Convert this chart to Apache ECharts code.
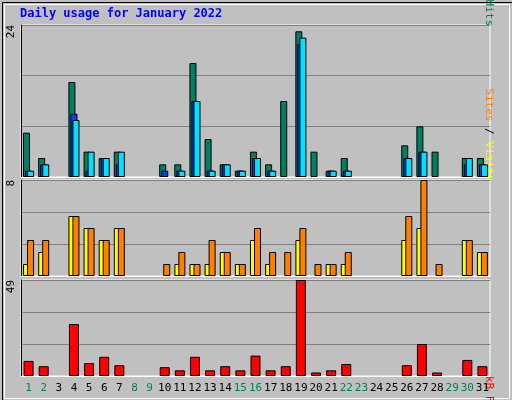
<!DOCTYPE html>
<html><head><meta charset="utf-8">
<script src="https://cdn.jsdelivr.net/npm/echarts@6/dist/echarts.min.js"></script>
<style>html,body{margin:0;padding:0;background:#c0c0c0}#c{width:512px;height:400px}</style>
</head><body><div id="c"></div>
<script>
var days = ['1','2','3','4','5','6','7','8','9','10','11','12','13','14','15','16','17','18','19','20','21','22','23','24','25','26','27','28','29','30','31'];
var weekend = ['1','2','8','9','15','16','22','23','29','30'];
var hits   = [7,3,0,15,4,3,4,0,0,2,2,18,6,2,1,4,2,12,23,4,1,3,0,0,0,5,8,4,0,3,3];
var files  = [1,2,0,10,1,3,2,0,0,1,1,12,1,2,1,3,1,0,21,0,1,1,0,0,0,3,4,0,0,2,2];
var pages  = [1,2,0,9,4,3,4,0,0,0,1,12,1,2,1,3,1,0,22,0,1,1,0,0,0,3,4,0,0,3,2];
var visits = [1,2,0,5,4,3,4,0,0,0,1,1,1,2,1,3,1,0,3,0,1,1,0,0,0,3,4,0,0,3,2];
var sites  = [3,3,0,5,4,3,4,0,0,1,2,1,3,2,1,4,2,2,4,1,1,2,0,0,0,5,8,1,0,3,2];
var kbytes = [7.7,5,0,26.5,6.6,9.8,5.5,0,0,4.5,2.9,9.8,2.9,5,2.9,10.4,2.9,5,49,1.8,2.9,6.1,0,0,0,5.5,16.3,1.8,0,8.2,5];
var maxes = [24, 8, 49];

var chart = echarts.init(document.getElementById('c'), null, {renderer: 'canvas'});
var font = 'DejaVu Sans Mono';
var grids = [
  {left: 21, right: 22, top: 25, height: 152},
  {left: 21, right: 22, top: 180, height: 96},
  {left: 21, right: 22, top: 280, height: 96}
];
function xAx(i) {
  return {
    gridIndex: i, type: 'category', data: days,
    axisLine: {show: true, lineStyle: {color: '#ffffff', width: 1}},
    axisTick: {show: false},
    axisLabel: i < 2 ? {show: false} : {
      show: true, interval: 0, margin: 7, fontFamily: font, fontSize: 11,
      color: function (v) { return weekend.indexOf(v) >= 0 ? '#008060' : '#000000'; }
    }
  };
}
function yAx(i) {
  return {
    gridIndex: i, type: 'value', min: 0, max: maxes[i], interval: maxes[i] / 3,
    axisLine: {show: true, lineStyle: {color: '#000000'}},
    axisTick: {show: false},
    splitLine: {show: true, lineStyle: {color: '#808080', width: 1}},
    axisLabel: {
      show: true, rotate: 90, fontFamily: font, fontSize: 11, color: '#000', margin: 4,
      verticalAlign: 'bottom', align: 'right',
      formatter: function (v) { return v === maxes[i] ? String(v) : ''; }
    }
  };
}
// zero days draw nothing
function nz(arr) { return arr.map(function (v) { return v === 0 ? '-' : v; }); }
function bar(name, data, color, gi, width, gap) {
  return {
    name: name, type: 'bar', data: nz(data), xAxisIndex: gi, yAxisIndex: gi,
    barWidth: width, barGap: gap, animation: false,
    itemStyle: {color: color, borderColor: '#000', borderWidth: 1}
  };
}
var lf = '11px "DejaVu Sans Mono"';
chart.setOption({
  backgroundColor: '#c0c0c0',
  animation: false,
  grid: grids.map(function (g) { return Object.assign({backgroundColor: '#c0c0c0', show: true, borderColor: '#ffffff', borderWidth: 1}, g); }),
  xAxis: [xAx(0), xAx(1), xAx(2)],
  yAxis: [yAx(0), yAx(1), yAx(2)],
  series: [
    bar('Hits', hits, '#008060', 0, 7, '-71%'),
    bar('Files', files, '#0040ff', 0, 7, '-71%'),
    bar('Pages', pages, '#00e0ff', 0, 7, '-71%'),
    bar('Visits', visits, '#ffff00', 1, 7, '-43%'),
    bar('Sites', sites, '#ff8000', 1, 7, '-43%'),
    bar('kB F', kbytes, '#ff0000', 2, 10, '0%')
  ],
  graphic: [
    {type: 'rect', left: 0, top: 0, shape: {width: 511, height: 399}, style: {fill: 'none', stroke: '#000', lineWidth: 1}, silent: true},
    {type: 'rect', left: 2, top: 2, shape: {width: 505, height: 394}, style: {fill: 'none', stroke: '#ffffff', lineWidth: 1}, silent: true},
    {type: 'text', left: 20, top: 8, style: {text: 'Daily usage for January 2022', fill: '#0000ff', font: 'bold 12px "DejaVu Sans Mono"'}},
    {type: 'text', x: 494, y: 26, rotation: -Math.PI / 2, style: {
      text: '{p|Pages} / {f|Files} / {h|Hits}', align: 'right', verticalAlign: 'top', font: lf, fill: '#000',
      rich: {p: {fill: '#00e0ff', font: lf}, f: {fill: '#0040ff', font: lf}, h: {fill: '#008060', font: lf}}}},
    {type: 'text', x: 494, y: 181, rotation: -Math.PI / 2, style: {
      text: '{s|Sites} / {v|Visits}', align: 'right', verticalAlign: 'top', font: lf, fill: '#000',
      rich: {s: {fill: '#ff8000', font: lf}, v: {fill: '#ffff00', font: lf}}}},
    {type: 'text', x: 494, y: 376, rotation: -Math.PI / 2, style: {
      text: 'kB F', align: 'left', verticalAlign: 'top', font: lf, fill: '#ff0000'}}
  ]
});
</script></body></html>
